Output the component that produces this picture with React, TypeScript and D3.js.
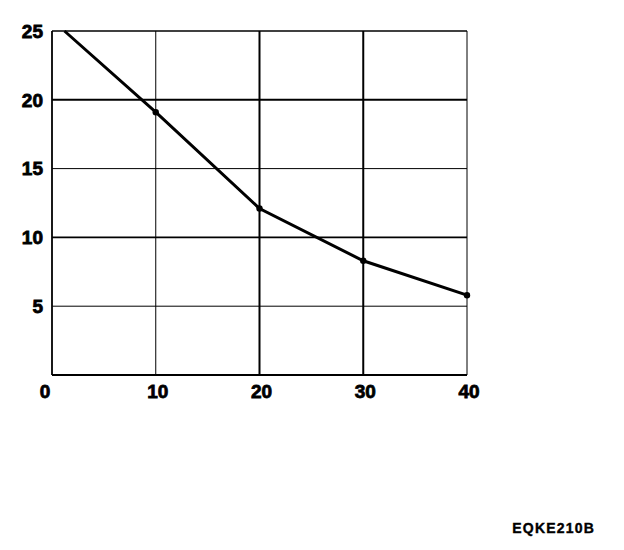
import React from "react";
import * as d3 from "d3";

const xValues = [1.2, 10, 20, 30, 40];
const yValues = [25, 19.1, 12.1, 8.3, 5.8];
const markerIdx = [1, 2, 3, 4];
const xTicks = [0, 10, 20, 30, 40];
const yTicks = [5, 10, 15, 20, 25];
const vGridWidths = [1, 2, 2, 1];
const hGridWidths = [1, 1.6, 1, 2, 1.5];
const code = "EQKE210B";

export default function App() {
  const W = 624, H = 550;
  const x = d3.scaleLinear().domain([0, 40]).range([52, 467]);
  const y = d3.scaleLinear().domain([0, 25]).range([375, 31]);
  const pts: [number, number][] = xValues.map((v, i) => [x(v), y(yValues[i])]);
  const line = d3.line();
  const font = "'Liberation Sans', Arial, sans-serif";
  return (
    <svg width={W} height={H} style={{ position: "absolute", left: 0, top: 0, background: "#fff" }}>
      <rect x={0} y={0} width={W} height={H} fill="#fff" />
      {yTicks.map((t, i) => (
        <line key={"h" + t} x1={x(0)} x2={x(40)} y1={y(t)} y2={y(t)} stroke="#000" strokeWidth={hGridWidths[i]} />
      ))}
      {xTicks.slice(1).map((t, i) => (
        <line key={"v" + t} x1={x(t)} x2={x(t)} y1={y(25)} y2={y(0)} stroke="#000" strokeWidth={vGridWidths[i]} />
      ))}
      <line x1={x(0)} x2={x(0)} y1={y(25)} y2={y(0)} stroke="#000" strokeWidth={1.8} />
      <line x1={x(0)} x2={x(40)} y1={y(0)} y2={y(0)} stroke="#000" strokeWidth={1.8} />
      <path d={line(pts) || ""} fill="none" stroke="#000" strokeWidth={3} />
      {markerIdx.map((i) => (
        <circle key={i} cx={pts[i][0]} cy={pts[i][1]} r={3.2} fill="#000" />
      ))}
      {yTicks.map((t) => (
        <text key={"yl" + t} x={43} y={y(t)} dy="0.36em" textAnchor="end" fontFamily={font} fontWeight="bold" fontSize={19} fill="#000" stroke="#000" strokeWidth={0.8}>
          {t}
        </text>
      ))}
      {xTicks.map((t) => (
        <text key={"xl" + t} x={t === 0 ? x(t) - 7 : x(t) + 2} y={398} textAnchor="middle" fontFamily={font} fontWeight="bold" fontSize={19} fill="#000" stroke="#000" strokeWidth={0.8}>
          {t}
        </text>
      ))}
      <text x={595} y={533} textAnchor="end" fontFamily={font} fontWeight="bold" fontSize={14} letterSpacing={1.2} fill="#000" stroke="#000" strokeWidth={0.4}>
        {code}
      </text>
    </svg>
  );
}
